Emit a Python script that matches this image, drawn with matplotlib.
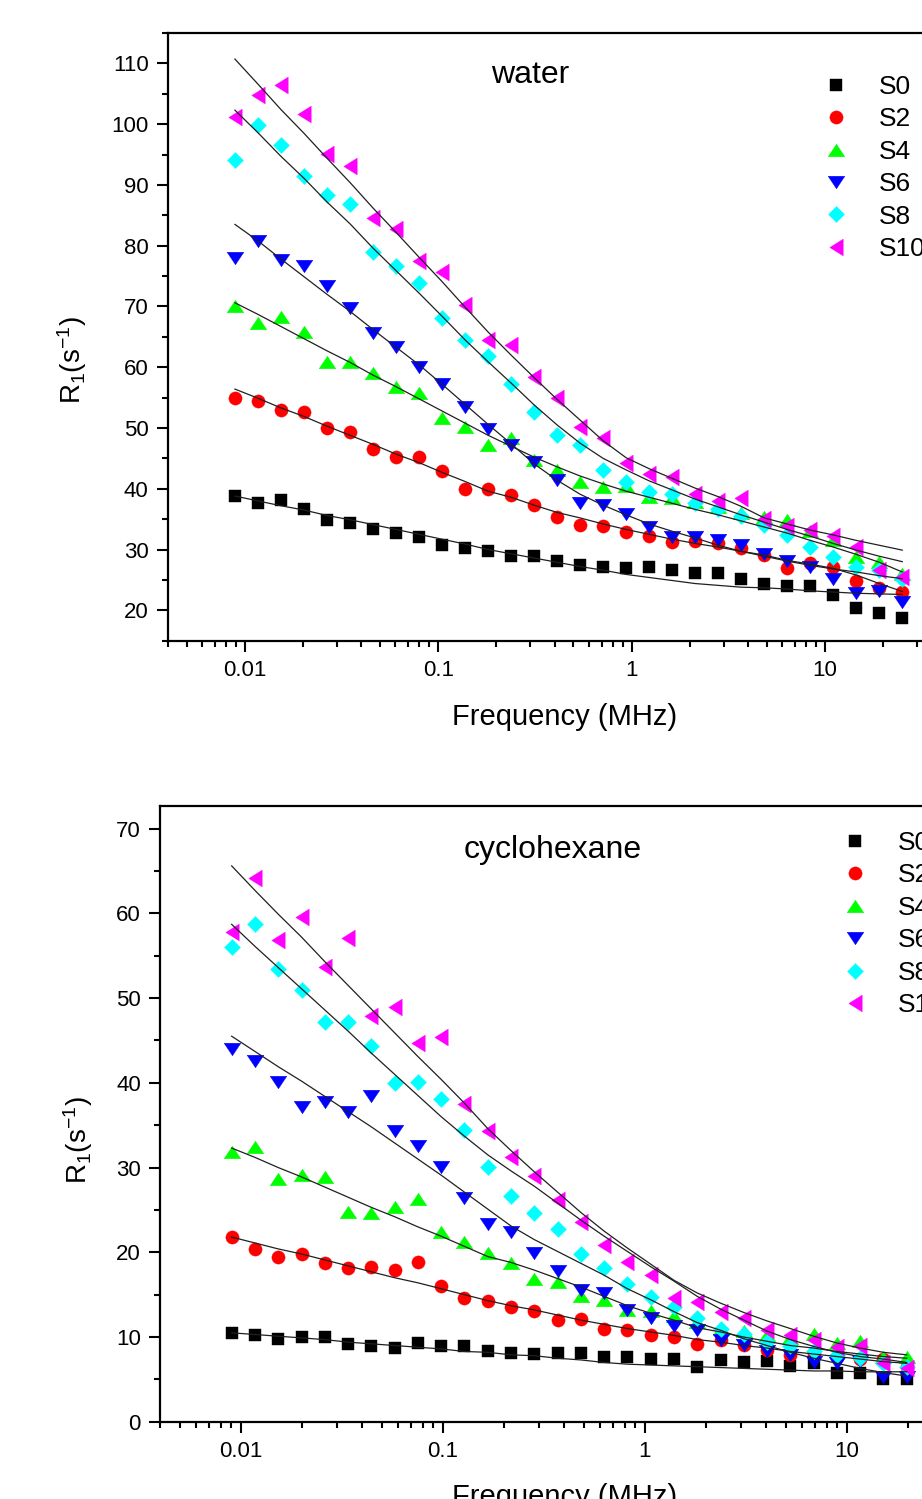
import matplotlib
matplotlib.use("Agg")
import matplotlib.pyplot as plt
from matplotlib.ticker import FixedLocator, FuncFormatter, LogLocator, MultipleLocator, NullFormatter

plt.rcParams['font.family'] = ['Liberation Sans', 'DejaVu Sans']
plt.rcParams['mathtext.fontset'] = 'custom'
plt.rcParams['mathtext.rm'] = 'Liberation Sans'
plt.rcParams['mathtext.it'] = 'Liberation Sans'

labels = ['S0', 'S2', 'S4', 'S6', 'S8', 'S10']

# ---- water ----
freq_w = [0.00888, 0.01167, 0.01536, 0.0202, 0.02657, 0.03496, 0.04598, 0.06047, 0.07955, 0.1046,
          0.1376, 0.181, 0.2381, 0.3132, 0.412, 0.5418, 0.7129, 0.9376, 1.233, 1.623,
          2.134, 2.807, 3.692, 4.857, 6.387, 8.401, 11.05, 14.54, 19.12, 25.15]
w_s0 = [38.8, 37.7, 38.1, 36.6, 34.8, 34.3, 33.3, 32.8, 32.1, 30.7, 30.3, 29.8, 28.9, 28.9, 28.1,
        27.4, 27.2, 27.0, 27.1, 26.7, 26.1, 26.1, 25.2, 24.4, 24.0, 24.0, 22.5, 20.4, 19.6, 18.7]
w_s2 = [55.0, 54.4, 52.9, 52.7, 50.0, 49.3, 46.5, 45.3, 45.2, 42.9, 40.0, 39.9, 39.0, 37.4, 35.4,
        34.1, 33.8, 32.9, 32.2, 31.2, 31.4, 31.0, 30.2, 29.1, 26.9, 27.7, 27.1, 24.9, 23.6, 23.0]
w_s4 = [70.0, 67.2, 68.2, 65.8, 60.9, 60.9, 59.1, 56.7, 55.8, 51.7, 50.2, 47.2, 48.3, 44.7, 43.1,
        41.1, 40.3, 40.4, 38.7, 38.4, 37.9, 37.0, 36.0, 35.3, 34.9, 33.0, 31.5, 28.8, 28.0, 26.0]
w_s6 = [77.9, 80.7, 77.7, 76.6, 73.3, 69.7, 65.6, 63.4, 60.1, 57.2, 53.4, 49.8, 47.2, 44.4, 41.4,
        37.7, 37.3, 35.9, 33.7, 32.0, 32.1, 31.6, 30.7, 29.3, 28.1, 27.1, 25.1, 22.9, 23.1, 21.4]
w_s8 = [94.1, 99.9, 96.6, 91.4, 88.3, 86.8, 79.0, 76.7, 73.8, 68.1, 64.5, 61.8, 57.3, 52.7, 48.8,
        47.2, 43.1, 41.1, 39.4, 39.1, 37.7, 36.6, 35.5, 34.0, 32.4, 30.4, 28.8, 27.1, 26.6, 25.2]
w_s10 = [101.2, 104.8, 106.5, 101.7, 95.1, 93.1, 84.5, 82.7, 77.4, 75.7, 70.2, 64.4, 63.7, 58.4, 54.9,
         50.2, 48.4, 44.3, 42.4, 42.0, 39.1, 38.0, 38.4, 35.1, 33.8, 33.2, 32.2, 30.4, 26.7, 25.5]

w_fit_s0 = [38.8, 38.0, 37.2, 36.5, 35.6, 34.9, 34.1, 33.3, 32.5, 31.7, 30.9, 30.0, 29.3, 28.6, 27.9,
            27.2, 26.6, 25.9, 25.4, 24.9, 24.4, 24.1, 23.8, 23.7, 23.5, 23.2, 23.0, 22.8, 22.7, 22.6]
w_fit_s2 = [56.4, 54.9, 53.3, 51.9, 50.3, 48.8, 47.3, 45.7, 44.3, 42.7, 41.2, 39.6, 38.6, 37.3, 36.1,
            35.2, 34.2, 33.3, 32.5, 31.7, 31.0, 30.4, 29.7, 29.1, 28.2, 27.6, 26.9, 25.8, 24.4, 23.1]
w_fit_s4 = [70.6, 68.7, 66.7, 64.7, 62.7, 60.8, 58.7, 56.8, 54.8, 52.8, 50.8, 48.8, 47.0, 45.2, 43.6,
            42.1, 40.8, 39.6, 38.6, 37.6, 36.6, 35.7, 34.7, 33.7, 32.7, 31.5, 30.4, 29.2, 27.9, 26.3]
w_fit_s6 = [83.5, 80.8, 77.8, 74.9, 72.0, 69.2, 66.2, 63.3, 60.4, 57.2, 53.9, 50.6, 47.4, 44.1, 41.4,
            39.1, 37.3, 35.7, 34.2, 33.0, 31.9, 30.7, 29.7, 28.9, 28.1, 27.4, 26.8, 26.3, 25.7, 25.2]
w_fit_s8 = [102.3, 98.6, 94.7, 91.1, 87.2, 83.6, 79.6, 75.9, 72.2, 68.4, 64.5, 60.9, 57.4, 53.8, 50.5,
            47.5, 45.0, 43.1, 41.3, 39.8, 38.3, 37.0, 35.7, 34.5, 33.3, 32.2, 31.0, 29.9, 28.9, 28.0]
w_fit_s10 = [110.7, 106.6, 102.4, 98.5, 94.4, 90.4, 86.2, 82.2, 78.1, 74.1, 69.9, 65.8, 62.0, 58.3, 54.7,
             51.3, 47.9, 45.1, 43.3, 41.7, 40.1, 38.7, 37.1, 35.2, 34.2, 33.2, 32.4, 31.5, 30.7, 29.9]

# ---- cyclohexane ----
freq_c = [0.00902, 0.01177, 0.01534, 0.02, 0.02608, 0.03401, 0.04434, 0.05781, 0.07538, 0.09828,
          0.1281, 0.1671, 0.2179, 0.2841, 0.3704, 0.483, 0.6297, 0.821, 1.071, 1.396,
          1.82, 2.373, 3.094, 4.034, 5.26, 6.858, 8.942, 11.66, 15.2, 19.82]
c_s0 = [10.5, 10.3, 9.8, 10.0, 10.0, 9.2, 9.0, 8.7, 9.3, 9.0, 9.0, 8.3, 8.1, 8.0, 8.1,
        8.1, 7.7, 7.7, 7.4, 7.4, 6.5, 7.3, 7.1, 7.2, 6.6, 6.9, 5.8, 5.7, 5.1, 5.1]
c_s2 = [21.8, 20.4, 19.4, 19.8, 18.7, 18.1, 18.3, 17.9, 18.8, 16.0, 14.6, 14.2, 13.5, 13.1, 12.0,
        12.1, 10.9, 10.8, 10.3, 10.0, 9.2, 9.6, 9.1, 8.5, 7.9, 8.0, 7.7, 7.4, 7.4, 6.5]
c_s4 = [31.8, 32.4, 28.7, 29.1, 28.9, 24.8, 24.6, 25.4, 26.3, 22.4, 21.2, 19.9, 18.7, 16.8, 16.5,
        14.8, 14.4, 13.2, 13.1, 12.5, 11.8, 11.0, 10.7, 10.2, 9.9, 10.4, 9.3, 9.5, 7.6, 7.7]
c_s6 = [44.0, 42.6, 40.1, 37.1, 37.7, 36.5, 38.5, 34.3, 32.5, 30.1, 26.4, 23.4, 22.4, 19.9, 17.8,
        15.5, 15.2, 13.2, 12.2, 11.3, 10.8, 9.7, 9.1, 8.4, 7.9, 7.1, 6.9, 7.2, 5.3, 5.3]
c_s8 = [56.0, 58.7, 53.4, 51.0, 47.2, 47.2, 44.4, 40.0, 40.1, 38.1, 34.4, 30.1, 26.7, 24.6, 22.8,
        19.8, 18.1, 16.3, 14.7, 13.6, 12.2, 11.0, 10.4, 9.4, 8.9, 8.3, 7.9, 7.5, 6.9, 6.5]
c_s10 = [57.8, 64.2, 56.8, 59.6, 53.7, 57.1, 47.9, 49.0, 44.7, 45.4, 37.5, 34.3, 31.3, 29.0, 26.2,
         23.6, 20.9, 18.8, 17.3, 14.6, 14.1, 12.9, 12.2, 10.8, 10.2, 9.6, 8.8, 9.0, 6.9, 6.3]

c_fit_s0 = [10.5, 10.3, 10.1, 9.9, 9.7, 9.4, 9.2, 9.0, 8.8, 8.6, 8.3, 8.2, 7.9, 7.8, 7.5,
            7.3, 7.0, 6.8, 6.7, 6.6, 6.5, 6.4, 6.3, 6.2, 6.1, 6.0, 6.0, 5.9, 5.9, 5.9]
c_fit_s2 = [21.8, 21.1, 20.4, 19.8, 19.1, 18.4, 17.7, 17.0, 16.4, 15.7, 15.0, 14.3, 13.7, 13.2, 12.6,
            12.0, 11.5, 11.0, 10.6, 10.2, 9.7, 9.4, 9.0, 8.7, 8.3, 8.0, 7.7, 7.4, 7.1, 6.9]
c_fit_s4 = [32.3, 31.2, 30.0, 28.9, 27.7, 26.5, 25.3, 24.2, 23.0, 21.9, 20.7, 19.5, 18.8, 17.9, 16.9,
            15.9, 14.8, 13.7, 12.8, 12.0, 11.1, 10.6, 10.0, 9.5, 9.0, 8.7, 8.3, 8.0, 7.7, 7.5]
c_fit_s6 = [45.5, 43.7, 41.9, 40.2, 38.4, 36.6, 34.8, 32.9, 31.0, 29.1, 27.1, 25.1, 23.1, 21.5, 20.1,
            18.7, 17.3, 15.7, 14.4, 13.0, 11.7, 10.8, 9.8, 9.0, 8.2, 7.5, 6.9, 6.3, 5.8, 5.4]
c_fit_s8 = [58.7, 56.1, 53.6, 51.1, 48.6, 46.1, 43.5, 41.0, 38.5, 36.0, 33.7, 31.5, 29.6, 27.8, 25.8,
            23.8, 21.9, 20.1, 18.3, 16.6, 14.8, 13.3, 12.0, 10.7, 9.7, 8.9, 8.2, 7.7, 7.4, 7.0]
c_fit_s10 = [65.6, 62.7, 59.9, 57.2, 54.3, 51.5, 48.7, 45.9, 43.1, 40.4, 37.6, 34.6, 32.0, 29.5, 27.1,
             24.7, 22.5, 20.5, 18.6, 16.7, 15.2, 14.0, 12.9, 11.9, 11.0, 10.1, 9.3, 8.7, 8.2, 7.9]

colors = ['#000000', '#ff0000', '#00ff00', '#0000ff', '#00ffff', '#ff00ff']
tri_up = [(-1, -0.75), (1, -0.75), (0, 0.75), (-1, -0.75)]
tri_down = [(-1, 0.75), (1, 0.75), (0, -0.75), (-1, 0.75)]
tri_left = [(-0.8, 0), (0.8, 1), (0.8, -1), (-0.8, 0)]
diamond = [(0, 1), (1, 0), (0, -1), (-1, 0), (0, 1)]
markers = ['s', 'o', tri_up, tri_down, diamond, tri_left]
msizes = [8, 9.5, 12, 12, 11.5, 12]


def panel(ax, freq, series, fits, ylim, title, title_xy, leg_xy, ylab_xy, xlab_xy):
    for y, c, m, ms, lab in zip(series, colors, markers, msizes, labels):
        ax.plot(freq, y, linestyle='none', marker=m, ms=ms, color=c,
                mec=c, mew=0.3, label=lab, zorder=3)
    for f in fits:
        ax.plot(freq, f, color='#202020', lw=0.9, zorder=4)

    ax.set_xscale('log')
    ax.set_xlim(0.004, 50)
    ax.set_ylim(*ylim)
    ax.xaxis.set_major_locator(FixedLocator([0.01, 0.1, 1, 10]))
    ax.xaxis.set_major_formatter(FuncFormatter(lambda v, p: '%g' % v))
    ax.xaxis.set_minor_locator(LogLocator(base=10, subs=range(2, 10), numticks=50))
    ax.xaxis.set_minor_formatter(NullFormatter())
    ax.yaxis.set_major_locator(MultipleLocator(10))
    ax.yaxis.set_minor_locator(MultipleLocator(5))

    for s in ax.spines.values():
        s.set_linewidth(1.6)
    ax.tick_params(which='both', direction='out', width=1.5, top=False, right=False,
                   labelsize=16)
    ax.tick_params(which='major', length=8, pad=6)
    ax.tick_params(which='minor', length=4.5)

    ax.text(title_xy[0], title_xy[1], title, transform=ax.transAxes,
            ha='center', va='center', fontsize=23)
    ax.text(ylab_xy[0], ylab_xy[1], r'R$_1$(s$^{-1}$)', transform=ax.transAxes,
            ha='center', va='center', rotation=90, fontsize=20)
    ax.text(xlab_xy[0], xlab_xy[1], 'Frequency (MHz)', transform=ax.transAxes,
            ha='center', va='center', fontsize=21)

    ax.legend(loc='upper left', bbox_to_anchor=leg_xy, frameon=False, fontsize=19,
              numpoints=1, handlelength=1.0, handletextpad=1.1, labelspacing=0.32,
              borderpad=0, borderaxespad=0)


fig = plt.figure(figsize=(9.22, 14.99), dpi=100)
ax1 = fig.add_axes([0.1822, 0.5726, 0.859, 0.4054])
ax2 = fig.add_axes([0.1739, 0.0515, 0.8976, 0.411])

panel(ax1, freq_w, [w_s0, w_s2, w_s4, w_s6, w_s8, w_s10],
      [w_fit_s0, w_fit_s2, w_fit_s4, w_fit_s6, w_fit_s8, w_fit_s10],
      (15, 115), 'water', (0.457, 0.931), (0.827, 0.931), (-0.121, 0.462), (0.501, -0.1256))
panel(ax2, freq_c, [c_s0, c_s2, c_s4, c_s6, c_s8, c_s10],
      [c_fit_s0, c_fit_s2, c_fit_s4, c_fit_s6, c_fit_s8, c_fit_s10],
      (0, 72.7), 'cyclohexane', (0.4745, 0.928), (0.8237, 0.959), (-0.0995, 0.457), (0.489, -0.122))

fig.savefig('out.png', dpi=100)
